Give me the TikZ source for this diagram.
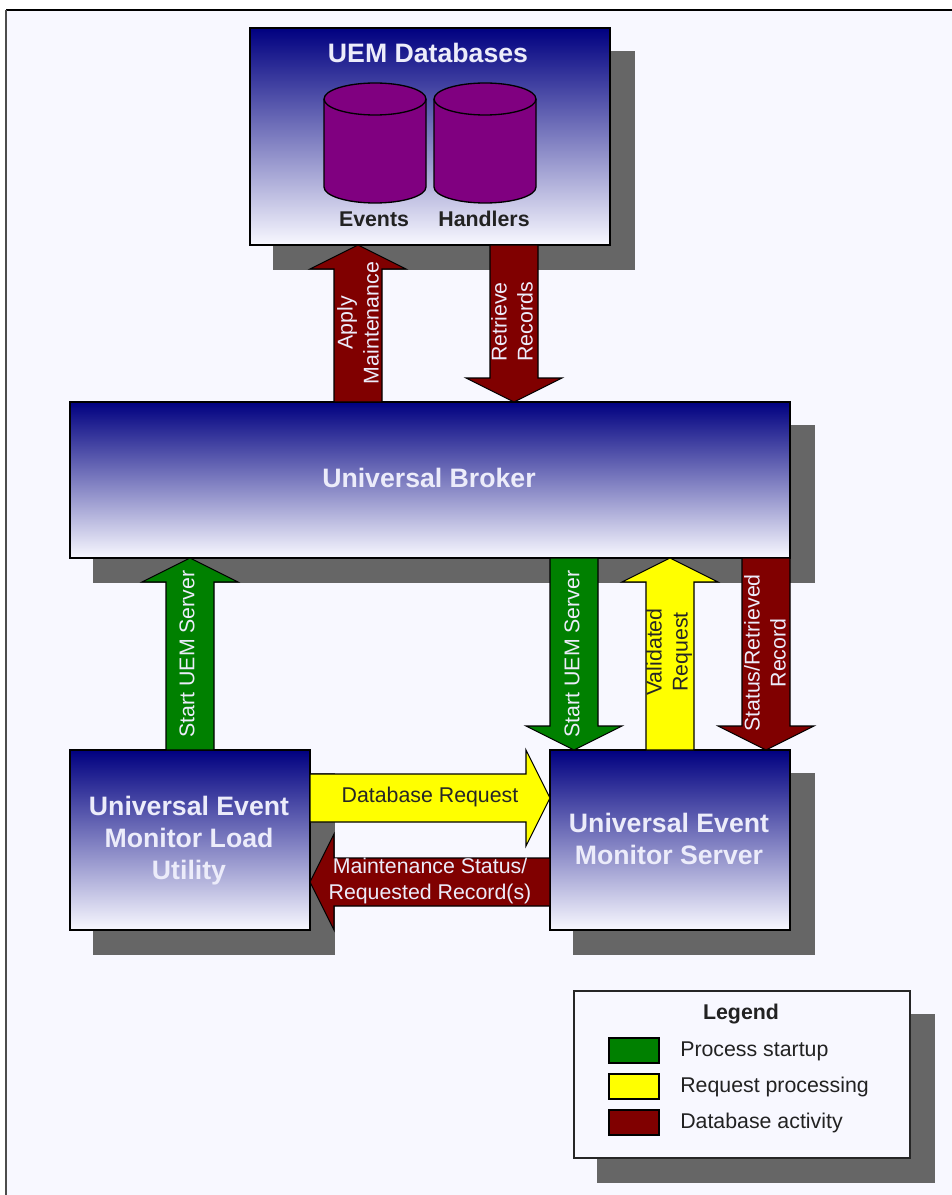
\documentclass[tikz,border=0pt]{standalone}
\usepackage{fontspec}
\setmainfont{Liberation Sans}
\usetikzlibrary{calc,shadows}
\definecolor{pagebg}{HTML}{F8F8FF}
\definecolor{navy}{HTML}{000080}
\definecolor{shadowc}{HTML}{666666}
\definecolor{dbpurple}{HTML}{800080}
\definecolor{startgreen}{HTML}{008000}
\definecolor{reqyellow}{HTML}{FFFF00}
\definecolor{dbred}{HTML}{800000}
\definecolor{lighttext}{HTML}{ECECFA}
\definecolor{darktext}{HTML}{222222}
\def\u{0.75pt}
\def\sw{18pt}
\def\hw{36pt}
\def\hl{18pt}
\tikzset{
  dropsh/.style={general shadow={fill=shadowc,draw=shadowc,shadow xshift=18pt,shadow yshift=-18pt}},
  gradbox/.style={dropsh,draw=black,line width=1.1pt,top color=navy,bottom color=pagebg,shading angle=0,inner sep=0pt,outer sep=0pt},
  boxlabel/.style={font=\fontsize{20}{24}\selectfont\bfseries,text=lighttext,align=center,inner sep=0pt},
  dblabel/.style={font=\fontsize{16}{18}\selectfont\bfseries,text=darktext,inner sep=0pt,anchor=base},
  blockarrow/.style={draw=black,line width=0.8pt,line join=miter,fill=#1},
  arrowlight/.style={font=\fontsize{16}{19.5}\selectfont,text=lighttext,align=center,inner sep=0pt},
  arrowdark/.style={font=\fontsize{16}{19.5}\selectfont,text=black!85,align=center,inner sep=0pt},
  swatch/.style={draw=black,line width=1.1pt,fill=#1,minimum width=37.5pt,minimum height=18.75pt,inner sep=0pt,outer sep=0pt},
  legendtext/.style={font=\fontsize{16}{18}\selectfont,text=darktext,anchor=west,inner sep=0pt},
}
\newcommand{\blockarr}[3]{%
  \coordinate (hb) at ($(#3)!\hl!(#2)$);
  \draw[blockarrow=#1]
    ($(#2)!\sw!90:(#3)$) -- ($(hb)!\sw!90:(#3)$) -- ($(hb)!\hw!90:(#3)$) -- (#3)
    -- ($(hb)!\hw!-90:(#3)$) -- ($(hb)!\sw!-90:(#3)$) -- ($(#2)!\sw!-90:(#3)$) -- cycle;}
\newcommand{\dbcyl}[1]{%
  \draw[draw=black,line width=1pt,fill=dbpurple]
    (#1,187) arc[start angle=180,end angle=360,x radius=38.25pt,y radius=12pt]
    -- (#1+102,99) arc[start angle=0,end angle=180,x radius=38.25pt,y radius=12pt] -- cycle;
  \draw[draw=black,line width=1pt] (#1,99) arc[start angle=180,end angle=360,x radius=38.25pt,y radius=12pt];}
\begin{document}
\begin{tikzpicture}[x=0.75pt,y=-0.75pt]
\useasboundingbox (0,0) rectangle (952,1195);
\fill[white] (0,0) rectangle (952,1195);
\fill[pagebg] (6,10) rectangle (952,1195);
\draw[black,line width=1.5pt] (952,10) -- (6,10);
\draw[black!70,line width=1.5pt] (6,10) -- (6,1195);
% boxes
\node[gradbox,minimum width=360*\u,minimum height=217*\u] (uemdb) at (430,136.5) {};
\node[gradbox,minimum width=720*\u,minimum height=156*\u] (broker) at (430,480) {};
\node[gradbox,minimum width=240*\u,minimum height=180*\u] (load) at (190,840) {};
\node[gradbox,minimum width=240*\u,minimum height=180*\u] (server) at (670,840) {};
\node[dropsh,draw=black!85,line width=1.1pt,fill=pagebg,minimum width=336*\u,minimum height=167*\u,inner sep=0pt,outer sep=0pt] (legend) at (742,1074.5) {};
% box labels
\node[boxlabel] (uemdbt) at (428,53) {UEM Databases};
\node[boxlabel] (brokert) at (429,478) {Universal Broker};
\node[boxlabel] (loadt) at (189,840.5) {Universal Event\\Monitor Load\\Utility};
\node[boxlabel] (servert) at (669,839) {Universal Event\\Monitor Server};
% databases
\dbcyl{324}
\dbcyl{434}
\node[dblabel] (events) at (374,226) {Events};
\node[dblabel] (handlers) at (484,226) {Handlers};
% arrow ends
\coordinate (applyS) at ($(broker.north west)+(288,0)$);
\coordinate (applyE) at (uemdb.south -| applyS);
\coordinate (retrS) at ($(uemdb.south west)+(264,0)$);
\coordinate (retrE) at (broker.north -| retrS);
\coordinate (startAE) at ($(broker.south west)+(120,0)$);
\coordinate (startAS) at (load.north -| startAE);
\coordinate (startBS) at ($(broker.south west)+(504,0)$);
\coordinate (startBE) at (server.north -| startBS);
\coordinate (validE) at ($(broker.south west)+(600,0)$);
\coordinate (validS) at (server.north -| validE);
\coordinate (statS) at ($(broker.south west)+(696,0)$);
\coordinate (statE) at (server.north -| statS);
\coordinate (reqS) at ($(load.north east)+(0,48)$);
\coordinate (reqE) at (server.west |- reqS);
\coordinate (mntS) at ($(server.north west)+(0,132)$);
\coordinate (mntE) at (load.east |- mntS);
% arrows
\blockarr{dbred}{applyS}{applyE}
\blockarr{dbred}{retrS}{retrE}
\blockarr{startgreen}{startAS}{startAE}
\blockarr{startgreen}{startBS}{startBE}
\blockarr{reqyellow}{validS}{validE}
\blockarr{dbred}{statS}{statE}
\blockarr{reqyellow}{reqS}{reqE}
\blockarr{dbred}{mntS}{mntE}
% arrow labels
\node[arrowlight,rotate=90] (applyt) at (358,323) {Apply\\Maintenance};
\node[arrowlight,rotate=90] (retrt) at (512,322) {Retrieve\\Records};
\node[arrowlight,rotate=90] (startat) at (187,654) {Start UEM Server};
\node[arrowlight,rotate=90] (startbt) at (572,654) {Start UEM Server};
\node[arrowdark,rotate=90] (validt) at (669,652) {Validated\\Request};
\node[arrowlight,rotate=90] (statt) at (765,653) {Status/Retrieved\\Record};
\node[arrowdark] (reqt) at (430,797) {Database Request};
\node[arrowlight] (mntt) at (430,881) {Maintenance Status/\\Requested Record(s)};
% legend
\node[font=\fontsize{16}{18}\selectfont\bfseries,text=darktext,inner sep=0pt] (legt) at (741,1014) {Legend};
\node[swatch=startgreen] (sw1) at (634,1050.5) {};
\node[swatch=reqyellow] (sw2) at (634,1086.5) {};
\node[swatch=dbred] (sw3) at (634,1122.5) {};
\node[legendtext] (lt1) at (680,1051) {Process startup};
\node[legendtext] (lt2) at (680,1087) {Request processing};
\node[legendtext] (lt3) at (680,1123) {Database activity};
\end{tikzpicture}
\end{document}
